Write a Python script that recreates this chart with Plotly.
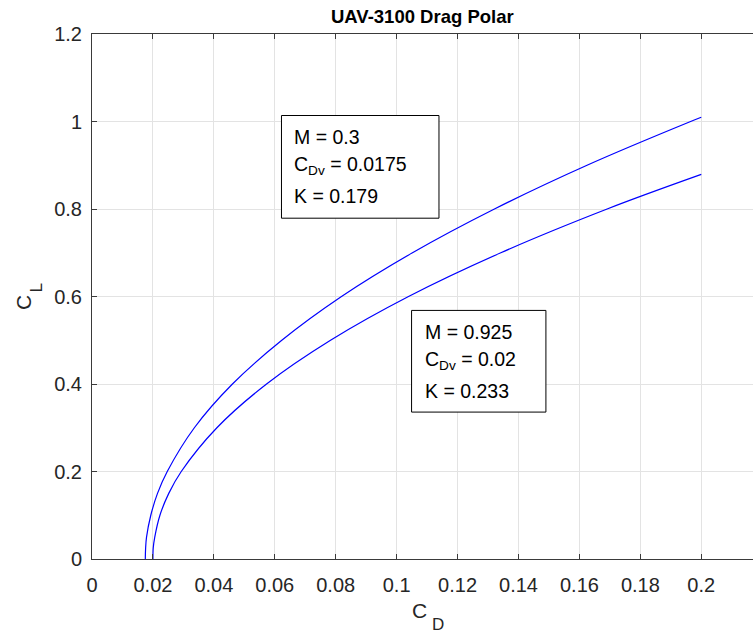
import plotly.graph_objects as go

# ---- data ----
cl_values_1 = [0.0, 0.025, 0.05, 0.1, 0.15, 0.2, 0.3, 0.4, 0.5, 0.6, 0.7, 0.8, 0.9, 1.0, 1.0097]
cd_values_1 = [0.0175, 0.0176, 0.0179, 0.0193, 0.0215, 0.0247, 0.0336, 0.0461, 0.0623, 0.0819,
               0.1052, 0.1321, 0.1625, 0.1965, 0.2]
cl_values_2 = [0.0, 0.025, 0.05, 0.1, 0.15, 0.2, 0.3, 0.4, 0.5, 0.6, 0.7, 0.8, 0.879]
cd_values_2 = [0.02, 0.0201, 0.0206, 0.0223, 0.0252, 0.0293, 0.0410, 0.0573, 0.0783, 0.1039,
               0.1342, 0.1691, 0.2]

x_ticks = [0, 0.02, 0.04, 0.06, 0.08, 0.1, 0.12, 0.14, 0.16, 0.18, 0.2]
x_tick_labels = ["0", "0.02", "0.04", "0.06", "0.08", "0.1", "0.12", "0.14", "0.16", "0.18", "0.2"]
y_ticks = [0, 0.2, 0.4, 0.6, 0.8, 1.0, 1.2]
y_tick_labels = ["0", "0.2", "0.4", "0.6", "0.8", "1", "1.2"]

box1_lines = ["M = 0.3", "C<sub>Dv</sub> = 0.0175", "K = 0.179"]
box2_lines = ["M = 0.925", "C<sub>Dv</sub> = 0.02", "K = 0.233"]

FONT = "Liberation Sans, Arial, Helvetica, sans-serif"
TXT = "#262626"
AX = "#3a3a3a"
GRID = "#e3e3e3"

L, T, B = 92, 34, 75
W, H = 753, 634
PW, PH = W - L, H - T - B


def px_x(px):
    return (px - L) / PW


def px_y(py):
    return (H - B - py) / PH


fig = go.Figure()
fig.add_trace(go.Scatter(x=cd_values_1, y=cl_values_1, mode="lines",
                         line=dict(color="#0000ff", width=1.2, shape="spline"), showlegend=False))
fig.add_trace(go.Scatter(x=cd_values_2, y=cl_values_2, mode="lines",
                         line=dict(color="#0000ff", width=1.2, shape="spline"), showlegend=False))

# annotation boxes
boxes = [
    dict(x0=0.0622, x1=0.1139, y0=0.779, y1=1.0137, tx=0.0657, ys=[0.9648, 0.906, 0.8287], lines=box1_lines),
    dict(x0=0.1049, x1=0.1490, y0=0.3358, y1=0.5682, tx=0.1085, ys=[0.5193, 0.4612, 0.3831], lines=box2_lines),
]
for b in boxes:
    fig.add_shape(type="rect", xref="x", yref="y", x0=b["x0"], x1=b["x1"], y0=b["y0"], y1=b["y1"],
                  line=dict(color="#000000", width=1), fillcolor="white", layer="above")
    for i, (yy, t) in enumerate(zip(b["ys"], b["lines"])):
        fig.add_annotation(x=b["tx"], y=yy, xref="x", yref="y", text=t, showarrow=False,
                           xanchor="left", yanchor="middle", yshift=-3 if i == 1 else 0,
                           font=dict(family=FONT, size=19.5, color="#000000"))

# title
fig.add_annotation(x=0.5, y=px_y(17), xref="paper", yref="paper", xanchor="center", yanchor="middle",
                   text="<b>UAV-3100 Drag Polar</b>", showarrow=False,
                   font=dict(family=FONT, size=18.5, color="#000000"))
# x label  C_D
fig.add_annotation(x=px_x(419.5), y=px_y(610.5), xref="paper", yref="paper", xanchor="center",
                   yanchor="middle", text="C", showarrow=False, font=dict(family=FONT, size=21, color=TXT))
fig.add_annotation(x=px_x(437.5), y=px_y(624), xref="paper", yref="paper", xanchor="center",
                   yanchor="middle", text="D", showarrow=False, font=dict(family=FONT, size=17, color=TXT))
# y label  C_L
fig.add_annotation(x=px_x(23.5), y=px_y(302.5), xref="paper", yref="paper", xanchor="center",
                   yanchor="middle", text="C", textangle=-90, showarrow=False,
                   font=dict(family=FONT, size=21, color=TXT))
fig.add_annotation(x=px_x(36), y=px_y(288.5), xref="paper", yref="paper", xanchor="center",
                   yanchor="middle", text="L", textangle=-90, showarrow=False,
                   font=dict(family=FONT, size=17, color=TXT))

fig.update_layout(
    width=W, height=H,
    margin=dict(l=L, r=0, t=T, b=B),
    paper_bgcolor="white", plot_bgcolor="white",
    showlegend=False,
    font=dict(family=FONT, color=TXT),
)
fig.update_xaxes(range=[0, (753 - 92.3) / 3045], tickvals=x_ticks, ticktext=x_tick_labels,
                 showgrid=True, gridcolor=GRID, gridwidth=1, zeroline=False,
                 showline=True, linecolor=AX, linewidth=1, mirror="ticks",
                 ticks="inside", ticklen=5, tickcolor=AX, ticklabelstandoff=8,
                 tickfont=dict(family=FONT, size=20, color=TXT))
fig.update_yaxes(range=[0, 1.2], tickvals=y_ticks, ticktext=y_tick_labels,
                 showgrid=True, gridcolor=GRID, gridwidth=1, zeroline=False,
                 showline=True, linecolor=AX, linewidth=1, mirror=False,
                 ticks="inside", ticklen=5, tickcolor=AX, ticklabelstandoff=5,
                 tickfont=dict(family=FONT, size=20, color=TXT))

fig.write_html("out.html")
